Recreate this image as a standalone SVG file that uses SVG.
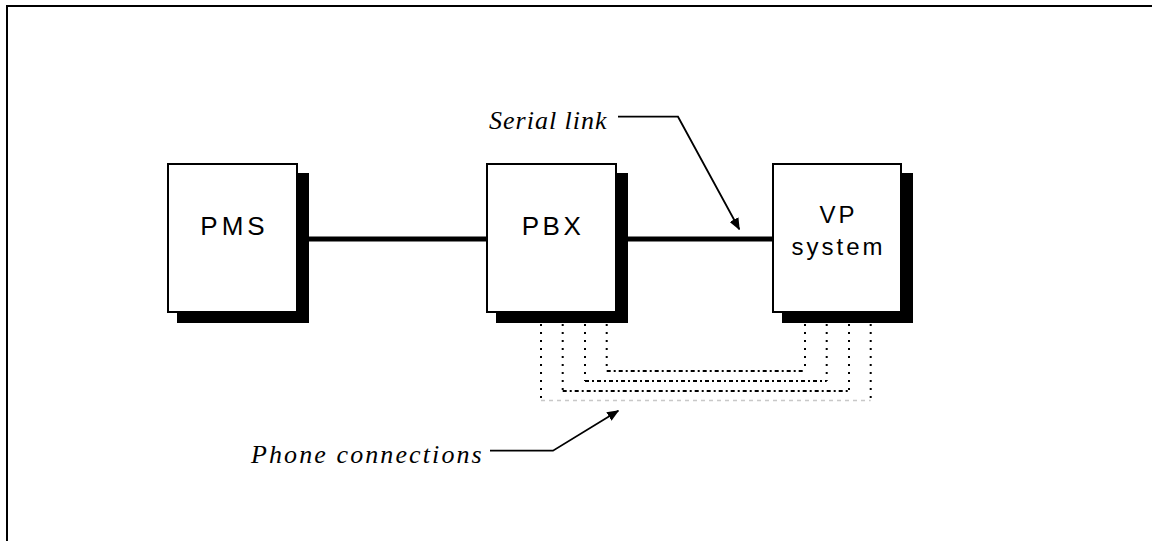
<svg xmlns="http://www.w3.org/2000/svg" width="1152" height="541" viewBox="0 0 1152 541">
<style>
.box{fill:#fff;stroke:#000;stroke-width:2}
.shadow{fill:#000}
.lbl{font-family:"Liberation Sans",Arial,sans-serif;fill:#000;text-anchor:middle}
.note{font-family:"Liberation Serif","Times New Roman",serif;font-style:italic;font-size:26px;fill:#000}
.link{stroke:#000;stroke-width:5;fill:none}
.lead{stroke:#000;stroke-width:1.8;fill:none}
.dot{stroke:#000;stroke-width:2;fill:none;stroke-dasharray:2 6}
.dd{stroke:#000;stroke-width:2;fill:none;stroke-dasharray:4 3 2 3}
</style>
<defs>
<marker id="ah" viewBox="0 0 12 10" refX="11" refY="5" markerWidth="12" markerHeight="10" markerUnits="userSpaceOnUse" orient="auto">
<path d="M0,0 L12,5 L0,10 Z" fill="#000"/>
</marker>
</defs>
<rect width="1152" height="541" fill="#fff"/>
<g id="frame">
<path d="M7,541 V6 H1152" fill="none" stroke="#000" stroke-width="2"/>
</g>
<g id="connectors">
<line class="link" x1="309" y1="239" x2="486" y2="239"/>
<line class="link" x1="628" y1="239" x2="772" y2="239"/>
<path class="dot" d="M606.7,324 V371"/>
<path class="dot" d="M585,324 V381"/>
<path class="dot" d="M562.7,324 V391"/>
<path class="dot" d="M541,324 V400"/>
<path class="dot" d="M805,324 V371"/>
<path class="dot" d="M826.7,324 V381"/>
<path class="dot" d="M849,324 V391"/>
<path class="dot" d="M870.7,324 V400"/>
<path class="dd" d="M606.7,371 H805"/>
<path class="dd" d="M585,381 H826.7"/>
<path class="dd" d="M562.7,391 H849"/>
<path d="M541,400.5 H870.7" fill="none" stroke="#c8c8c8" stroke-width="1.5" stroke-dasharray="4 4"/>
<path class="lead" d="M618,116.7 H678 L739.3,229.3" marker-end="url(#ah)"/>
<path class="lead" d="M490,450.7 H553 L618.3,410.7" marker-end="url(#ah)"/>
</g>
<g id="pms">
<rect class="shadow" x="177" y="173" width="132" height="150"/>
<rect class="box" x="168" y="164" width="129" height="148"/>
<text class="lbl" x="234.5" y="235" font-size="26" letter-spacing="4">PMS</text>
</g>
<g id="pbx">
<rect class="shadow" x="496" y="173" width="132" height="150"/>
<rect class="box" x="487" y="164" width="129" height="148"/>
<text class="lbl" x="553" y="235" font-size="26" letter-spacing="3.5">PBX</text>
</g>
<g id="vp">
<rect class="shadow" x="782" y="173" width="131" height="150"/>
<rect class="box" x="773" y="164" width="128" height="148"/>
<text class="lbl" font-size="24" letter-spacing="3"><tspan x="838.5" y="223">VP</tspan><tspan x="838.5" y="255">system</tspan></text>
</g>
<g id="notes">
<text class="note" x="489" y="129" letter-spacing="1">Serial link</text>
<text class="note" x="251" y="463" letter-spacing="2.1">Phone connections</text>
</g>
</svg>
